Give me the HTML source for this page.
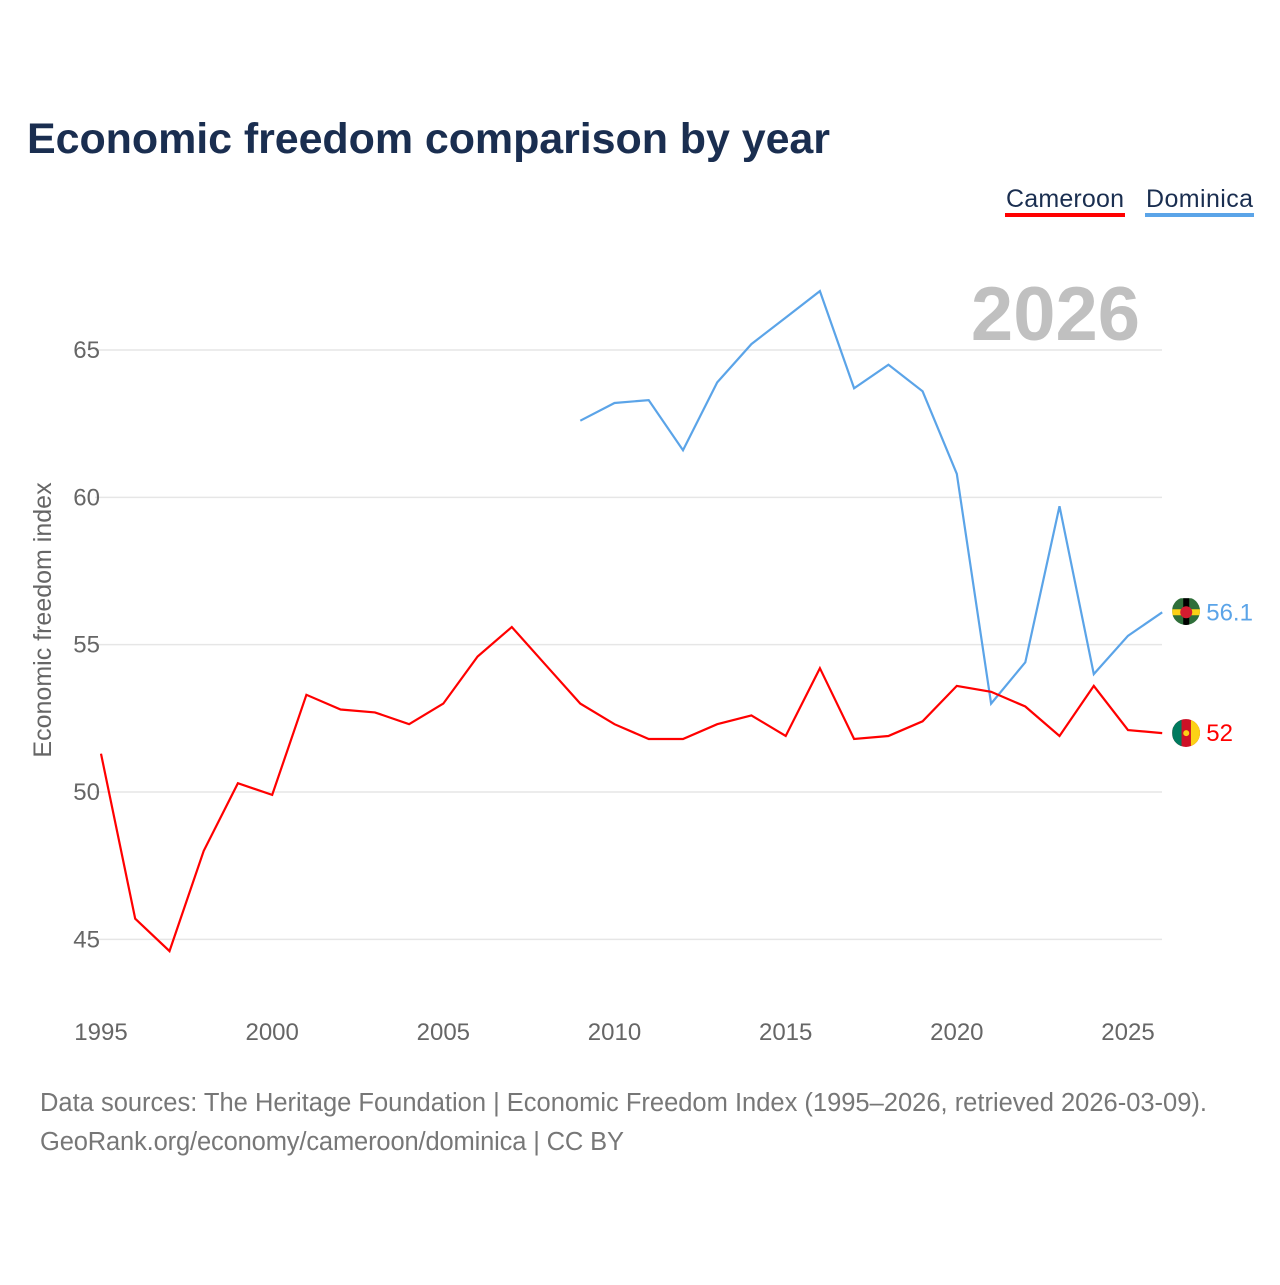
<!DOCTYPE html>
<html><head><meta charset="utf-8">
<style>
body{margin:0;background:#fff;font-family:"Liberation Sans",sans-serif;}
#wrap{position:relative;width:1280px;height:1280px;}
</style></head>
<body>
<div id="wrap">
<svg id="chart" width="1280" height="1280" xmlns="http://www.w3.org/2000/svg">
  <defs>
    <clipPath id="clipD"><circle cx="1186" cy="611" r="14"/></clipPath>
    <clipPath id="clipC"><circle cx="1186" cy="733" r="14"/></clipPath>
  </defs>
  <text x="27" y="153" font-size="43" font-weight="bold" fill="#1a2e50" textLength="803">Economic freedom comparison by year</text>
  <g>
    <text x="1006" y="207" font-size="25" fill="#1a2e50" textLength="118">Cameroon</text>
    <rect x="1005" y="213" width="120" height="4" fill="#ff0000"/>
  </g>
  <g>
    <text x="1146" y="207" font-size="25" fill="#1a2e50" textLength="107">Dominica</text>
    <rect x="1145" y="213" width="109" height="4" fill="#5ba4e8"/>
  </g>
  <text x="1140" y="340" font-size="76" font-weight="bold" fill="#c0c0c0" text-anchor="end">2026</text>
  <g id="grid"></g>
  <g id="xticks"></g>
  <g id="series"></g>
  <text transform="translate(51,620) rotate(-90)" font-size="25" fill="#666" text-anchor="middle">Economic freedom index</text>
  <text x="40" y="1111" font-size="25.5" fill="#777" textLength="1167">Data sources: The Heritage Foundation | Economic Freedom Index (1995–2026, retrieved 2026-03-09).</text>
  <text x="40" y="1150" font-size="25.5" fill="#777" textLength="584">GeoRank.org/economy/cameroon/dominica | CC BY</text>
</svg>
</div>
<script>
const years = [1995,1996,1997,1998,1999,2000,2001,2002,2003,2004,2005,2006,2007,2008,2009,2010,2011,2012,2013,2014,2015,2016,2017,2018,2019,2020,2021,2022,2023,2024,2025,2026];
const cameroon = [51.3,45.7,44.6,48.0,50.3,49.9,53.3,52.8,52.7,52.3,53.0,54.6,55.6,54.3,53.0,52.3,51.8,51.8,52.3,52.6,51.9,54.2,51.8,51.9,52.4,53.6,53.4,52.9,51.9,53.6,52.1,52.0];
const dominica = [null,null,null,null,null,null,null,null,null,null,null,null,null,null,62.6,63.2,63.3,61.6,63.9,65.2,66.1,67.0,63.7,64.5,63.6,60.8,53.0,54.4,59.7,54.0,55.3,56.1];
const yTicks = [45,50,55,60,65];
const xTicks = [1995,2000,2005,2010,2015,2020,2025];
const NS="http://www.w3.org/2000/svg";
function X(yr){return 101+(yr-1995)*(1128-101)/30;}
function Y(v){return 792-(v-50)*(792-350)/15;}
function mk(tag,attrs,parent){const e=document.createElementNS(NS,tag);for(const k in attrs)e.setAttribute(k,attrs[k]);parent.appendChild(e);return e;}
const grid=document.getElementById('grid');
yTicks.forEach(t=>{
  const l=mk('line',{x1:95,x2:1162,y1:Y(t),y2:Y(t),stroke:'#e6e6e6','stroke-width':1.5},grid);
  
  
  const tx=mk('text',{x:100,y:Y(t)+8,'font-size':24,fill:'#666','text-anchor':'end'},grid);
  tx.textContent=t;
  
  
});
const xg=document.getElementById('xticks');
xTicks.forEach(t=>{
  const tx=mk('text',{x:X(t),y:1040,'font-size':24,fill:'#666','text-anchor':'middle'},xg);
  tx.textContent=t;
  
  
});
const sg=document.getElementById('series');
function draw(vals,color,name){
  let d='';let first=true;
  vals.forEach((v,i)=>{if(v==null)return;d+=(first?'M':'L')+X(years[i]).toFixed(1)+','+Y(v).toFixed(1);first=false;});
  const p=mk('path',{d:d,fill:'none',stroke:color,'stroke-width':2.2},sg);
  
  
  const last=vals[vals.length-1];
  const cx=X(years[years.length-1])+24, cy=Y(last);
  const g=mk('g',{'clip-path':name==='cameroon'?'url(#clipC)':'url(#clipD)'},sg);
  
  
  if(name==='cameroon'){
    mk('rect',{x:cx-14,y:cy-14,width:28,height:28,fill:'#ce1126'},g);
    mk('rect',{x:cx-14,y:cy-14,width:9.3,height:28,fill:'#007a5e'},g);
    mk('rect',{x:cx+4.7,y:cy-14,width:9.3,height:28,fill:'#fcd116'},g);
    mk('circle',{cx:cx,cy:cy,r:3,fill:'#fcd116'},g);
  } else {
    mk('rect',{x:cx-14,y:cy-14,width:28,height:28,fill:'#2f6f3a'},g);
    mk('rect',{x:cx-14,y:cy-3,width:28,height:6,fill:'#fcd116'},g);
    mk('rect',{x:cx-3,y:cy-14,width:6,height:28,fill:'#000'},g);
    mk('circle',{cx:cx,cy:cy,r:6,fill:'#d41c30'},g);
  }
  const t=mk('text',{x:cx+20,y:cy+8,'font-size':24,fill:color},sg);
  t.textContent=last;
  
  
}
draw(dominica,'#5ba4e8','dominica');
draw(cameroon,'#ff0000','cameroon');
</script>
</body></html>
